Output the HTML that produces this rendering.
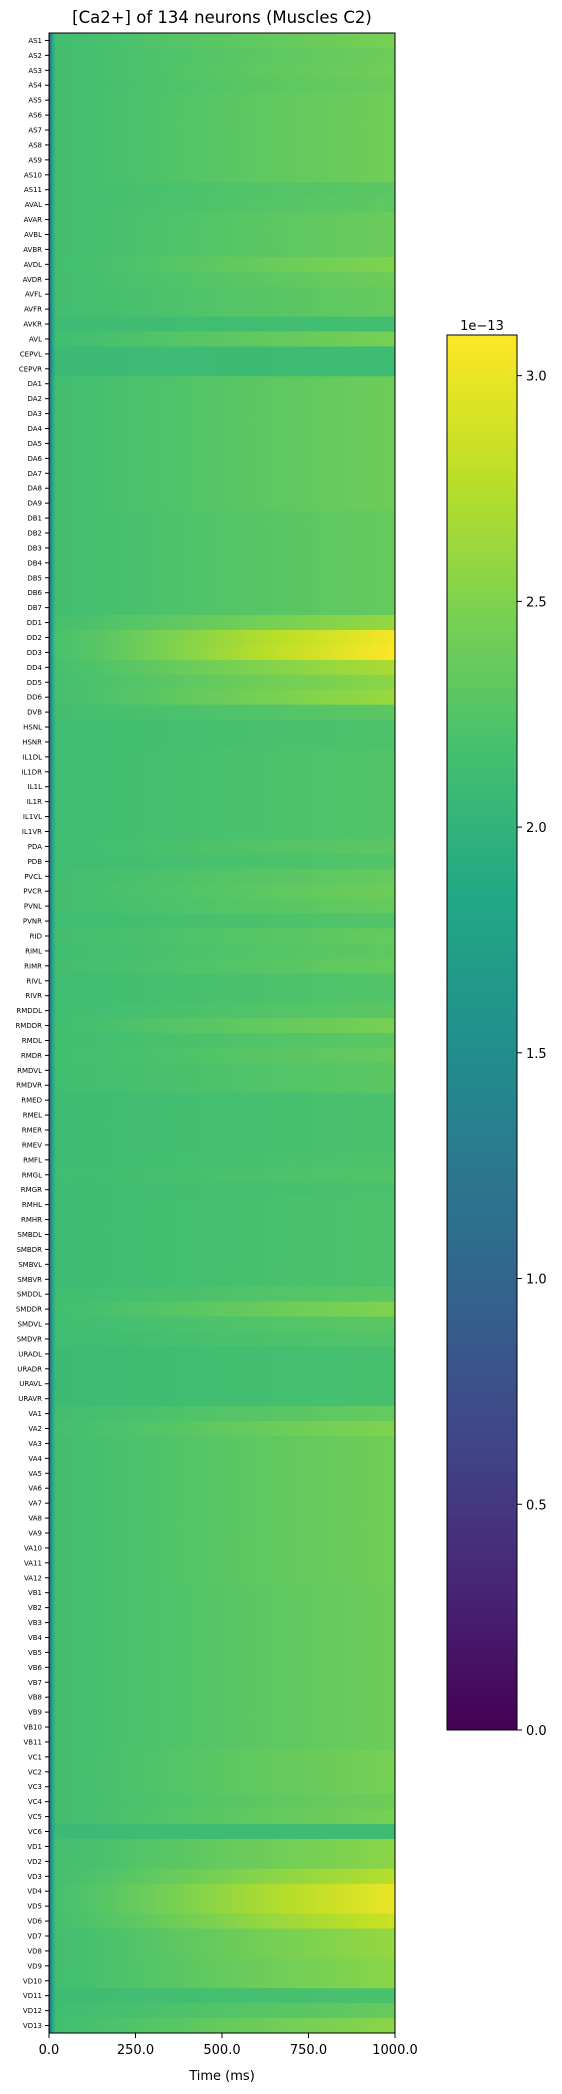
<!DOCTYPE html>
<html><head><meta charset="utf-8"><style>
html,body{margin:0;padding:0;background:#fff;}
svg{display:block;font-family:"DejaVu Sans","Liberation Sans",sans-serif;}
</style></head><body>
<svg id="chart" width="562" height="2094" viewBox="0 0 562 2094" xmlns="http://www.w3.org/2000/svg">
<defs id="defs"></defs>
<text x="222" y="23" font-size="16.5" text-anchor="middle" fill="#000">[Ca2+] of 134 neurons (Muscles C2)</text>
<g id="rows"></g>
<rect x="49" y="33" width="346" height="2000" fill="none" stroke="#000" stroke-width="1"/>
<g id="yticks"></g>
<g id="xticks"></g>
<text x="222" y="2080" font-size="13" text-anchor="middle" fill="#000">Time (ms)</text>
<rect id="cbar" x="447" y="335" width="70" height="1395" stroke="#000" stroke-width="1"/>
<text x="482" y="330" font-size="13" text-anchor="middle" fill="#000">1e−13</text>
<g id="cticks"></g>
</svg>
<script>
const neuronNames = ["AS1","AS2","AS3","AS4","AS5","AS6","AS7","AS8","AS9","AS10","AS11","AVAL","AVAR","AVBL","AVBR","AVDL","AVDR","AVFL","AVFR","AVKR","AVL","CEPVL","CEPVR","DA1","DA2","DA3","DA4","DA5","DA6","DA7","DA8","DA9","DB1","DB2","DB3","DB4","DB5","DB6","DB7","DD1","DD2","DD3","DD4","DD5","DD6","DVB","HSNL","HSNR","IL1DL","IL1DR","IL1L","IL1R","IL1VL","IL1VR","PDA","PDB","PVCL","PVCR","PVNL","PVNR","RID","RIML","RIMR","RIVL","RIVR","RMDDL","RMDDR","RMDL","RMDR","RMDVL","RMDVR","RMED","RMEL","RMER","RMEV","RMFL","RMGL","RMGR","RMHL","RMHR","SMBDL","SMBDR","SMBVL","SMBVR","SMDDL","SMDDR","SMDVL","SMDVR","URADL","URADR","URAVL","URAVR","VA1","VA2","VA3","VA4","VA5","VA6","VA7","VA8","VA9","VA10","VA11","VA12","VB1","VB2","VB3","VB4","VB5","VB6","VB7","VB8","VB9","VB10","VB11","VC1","VC2","VC3","VC4","VC5","VC6","VD1","VD2","VD3","VD4","VD5","VD6","VD7","VD8","VD9","VD10","VD11","VD12","VD13"];
const endValues = [2.45,2.4,2.42,2.38,2.42,2.42,2.42,2.42,2.42,2.42,2.3,2.32,2.38,2.38,2.38,2.5,2.4,2.35,2.35,2.15,2.45,2.12,2.12,
2.4,2.4,2.4,2.4,2.4,2.4,2.4,2.4,2.4,2.35,2.35,2.35,2.35,2.35,2.35,2.35,
2.6,3.05,3.09,2.7,2.55,2.62,2.3,2.22,2.22,2.25,2.25,2.25,2.25,2.25,2.25,
2.3,2.25,2.35,2.4,2.35,2.25,2.35,2.32,2.35,2.25,2.25,
2.3,2.45,2.3,2.35,2.3,2.3,2.2,2.2,2.2,2.2,2.22,2.25,2.2,2.22,2.22,
2.22,2.22,2.22,2.22,2.3,2.5,2.3,2.25,2.18,2.18,2.18,2.18,
2.35,2.5,2.42,2.42,2.42,2.42,2.42,2.42,2.42,2.42,2.42,2.42,
2.4,2.4,2.4,2.4,2.4,2.4,2.4,2.4,2.4,2.4,2.4,
2.45,2.45,2.45,2.4,2.45,2.12,
2.55,2.55,2.75,3.0,3.0,2.85,2.6,2.6,2.55,2.55,2.2,2.35,2.55];
const earlyValues = [2.15,2.15,2.15,2.15,2.15,2.15,2.15,2.15,2.15,2.15,2.15,2.15,2.15,2.15,2.15,2.15,2.15,2.15,2.15,2.12,2.15,2.1,2.1,
2.15,2.15,2.15,2.15,2.15,2.15,2.15,2.15,2.15,2.15,2.15,2.15,2.15,2.15,2.15,2.15,
2.18,2.2,2.2,2.18,2.17,2.17,2.15,2.13,2.13,2.13,2.13,2.13,2.13,2.13,2.13,
2.14,2.13,2.15,2.15,2.15,2.13,2.15,2.14,2.15,2.13,2.13,
2.14,2.15,2.14,2.15,2.14,2.14,2.12,2.12,2.12,2.12,2.12,2.13,2.12,2.12,2.12,
2.12,2.12,2.12,2.12,2.14,2.15,2.14,2.13,2.11,2.11,2.11,2.11,
2.15,2.16,2.15,2.15,2.15,2.15,2.15,2.15,2.15,2.15,2.15,2.15,
2.15,2.15,2.15,2.15,2.15,2.15,2.15,2.15,2.15,2.15,2.15,
2.15,2.15,2.15,2.15,2.15,2.1,
2.16,2.16,2.17,2.18,2.18,2.17,2.15,2.15,2.15,2.15,2.12,2.14,2.15];
const sampleTimes = [0,3,6,10,15,22,50,100,200,300,400,500,600,700,800,900,1000];
const onsetFrac   = [0.36,0.5,0.7,0.85,0.95,1,1,1,1,1,1,1,1,1,1,1,1];
const riseFrac    = [0,0,0,0,0,0,0.02,0.06,0.16,0.27,0.38,0.49,0.6,0.7,0.8,0.9,1];
const xTicks = [0,250,500,750,1000];
const xTickLabels = ["0.0","250.0","500.0","750.0","1000.0"];
const cTicks = [0,0.5,1,1.5,2,2.5,3];
const cTickLabels = ["0.0","0.5","1.0","1.5","2.0","2.5","3.0"];
const vMax = 3.09;

const NS='http://www.w3.org/2000/svg';
const X0=49,X1=395,Y0=33,Y1=2033;
const rowH=(Y1-Y0)/neuronNames.length;
const xScale=t=>X0+(t/1000)*(X1-X0);
const vir=["#440154","#482475","#414487","#355f8d","#2a788e","#21918c","#22a884","#44bf70","#7ad151","#bddf26","#fde725"];
function hex(h){return [1,3,5].map(i=>parseInt(h.substr(i,2),16));}
function viridis(f){f=Math.max(0,Math.min(1,f));const p=f*10,i=Math.min(9,Math.floor(p)),u=p-i;const a=hex(vir[i]),b=hex(vir[i+1]);return 'rgb('+a.map((c,k)=>Math.round(c+(b[k]-c)*u)).join(',')+')';}
const defs=document.getElementById('defs'),rows=document.getElementById('rows'),yt=document.getElementById('yticks');
neuronNames.forEach((n,i)=>{
  const g=document.createElementNS(NS,'linearGradient');
  g.setAttribute('id','g'+i);g.setAttribute('x1','0');g.setAttribute('x2','1');g.setAttribute('y1','0');g.setAttribute('y2','0');
  sampleTimes.forEach((t,k)=>{
    const v=earlyValues[i]*onsetFrac[k]+(endValues[i]-earlyValues[i])*riseFrac[k];
    const s=document.createElementNS(NS,'stop');
    s.setAttribute('offset',(t/1000));s.setAttribute('stop-color',viridis(v/vMax));
    g.appendChild(s);
  });
  defs.appendChild(g);
  const r=document.createElementNS(NS,'rect');
  
  
  r.setAttribute('x',X0);r.setAttribute('y',Y0+i*rowH);r.setAttribute('width',X1-X0);r.setAttribute('height',rowH+0.4);
  r.setAttribute('fill','url(#g'+i+')');
  rows.appendChild(r);
  const cy=Y0+(i+0.5)*rowH;
  const tk=document.createElementNS(NS,'line');
  
  
  tk.setAttribute('x1',X0-4);tk.setAttribute('x2',X0);tk.setAttribute('y1',cy);tk.setAttribute('y2',cy);tk.setAttribute('stroke','#000');
  yt.appendChild(tk);
  const tx=document.createElementNS(NS,'text');
  
  
  tx.setAttribute('x',X0-7);tx.setAttribute('y',cy+2.5);tx.setAttribute('font-size','7');tx.setAttribute('text-anchor','end');
  tx.textContent=n;yt.appendChild(tx);
});
const xt=document.getElementById('xticks');
xTicks.forEach((t,i)=>{
  const x=xScale(t);
  const l=document.createElementNS(NS,'line');
  
  
  l.setAttribute('x1',x);l.setAttribute('x2',x);l.setAttribute('y1',Y1);l.setAttribute('y2',Y1+5);l.setAttribute('stroke','#000');
  xt.appendChild(l);
  const tx=document.createElementNS(NS,'text');
  
  
  tx.setAttribute('x',x);tx.setAttribute('y',Y1+21);tx.setAttribute('font-size','13');tx.setAttribute('text-anchor','middle');
  tx.textContent=xTickLabels[i];xt.appendChild(tx);
});
const cg=document.createElementNS(NS,'linearGradient');
cg.setAttribute('id','cg');cg.setAttribute('x1','0');cg.setAttribute('x2','0');cg.setAttribute('y1','1');cg.setAttribute('y2','0');
vir.forEach((c,k)=>{const s=document.createElementNS(NS,'stop');s.setAttribute('offset',k/10);s.setAttribute('stop-color',c);cg.appendChild(s);});
defs.appendChild(cg);
document.getElementById('cbar').setAttribute('fill','url(#cg)');
const CB0=335,CB1=1730,ct=document.getElementById('cticks');
cTicks.forEach((v,i)=>{
  const y=CB1-(v/vMax)*(CB1-CB0);
  const l=document.createElementNS(NS,'line');
  
  
  l.setAttribute('x1',517);l.setAttribute('x2',522);l.setAttribute('y1',y);l.setAttribute('y2',y);l.setAttribute('stroke','#000');
  ct.appendChild(l);
  const tx=document.createElementNS(NS,'text');
  
  
  tx.setAttribute('x',526);tx.setAttribute('y',y+5);tx.setAttribute('font-size','13');
  tx.textContent=cTickLabels[i];ct.appendChild(tx);
});
</script>
</body></html>
